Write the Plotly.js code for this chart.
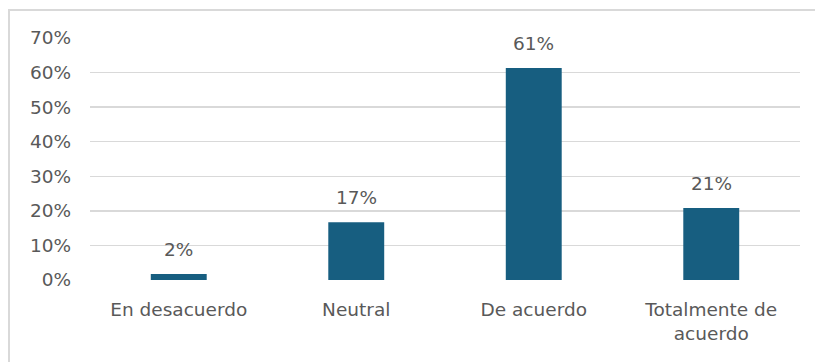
<!DOCTYPE html>
<html>
<head>
<meta charset="utf-8">
<script src="https://cdn.plot.ly/plotly-3.0.1.min.js"></script>
<style>
  html, body { margin: 0; padding: 0; background: #fff; }
  #wrap { position: relative; width: 815px; height: 362px; }
  #chart { position: absolute; left: 0; top: 0; width: 815px; height: 362px; }
  #frame { position: absolute; left: 8px; top: 9px; width: 820px; height: 370px;
           border-top: 2px solid #d9d9d9; border-left: 2px solid #d9d9d9; pointer-events: none; }
</style>
</head>
<body>
<div id="wrap">
  <div id="chart"></div>
  <div id="frame"></div>
</div>
<script>
const categories = ["En desacuerdo", "Neutral", "De acuerdo", "Totalmente de<br>acuerdo"];
const values = [0.017, 0.167, 0.613, 0.208];
const tickVals = [0, 0.1, 0.2, 0.3, 0.4, 0.5, 0.6, 0.7];
const tickText = ["0%", "10%", "20%", "30%", "40%", "50%", "60%", "70%"];
const labels = ["2%", "17%", "61%", "21%"];

const FONT = "'DejaVu Sans', 'Liberation Sans', Arial, sans-serif";
const GREY = "#595959";
const SIZE = 18.5;

const trace = {
  type: "bar",
  x: categories,
  y: values,
  marker: { color: "#175E80" },
  hoverinfo: "none"
};

const annotations = categories.map((c, i) => ({
  x: c, y: values[i], xref: "x", yref: "y",
  text: labels[i], showarrow: false,
  yanchor: "bottom", yshift: 12,
  font: { family: FONT, size: SIZE, color: GREY }
}));

const layout = {
  width: 815, height: 362,
  margin: { l: 90, r: 15, t: 38, b: 82 },
  paper_bgcolor: "rgba(0,0,0,0)",
  plot_bgcolor: "rgba(0,0,0,0)",
  showlegend: false,
  bargap: 0.685,
  font: { family: FONT, size: SIZE, color: GREY },
  xaxis: {
    type: "category",
    showgrid: false, zeroline: false, showline: false,
    ticks: "", ticklabelstandoff: 16,
    tickfont: { family: FONT, size: SIZE, color: GREY }
  },
  yaxis: {
    range: [0, 0.7],
    tickvals: tickVals, ticktext: tickText,
    showgrid: true, gridcolor: "#d9d9d9", gridwidth: 1.5,
    zeroline: false, showline: false, ticks: "",
    ticklabelstandoff: 18,
    tickfont: { family: FONT, size: SIZE, color: GREY }
  },
  annotations: annotations
};

Plotly.newPlot("chart", [trace], layout, { staticPlot: true, displayModeBar: false });
</script>
</body>
</html>
